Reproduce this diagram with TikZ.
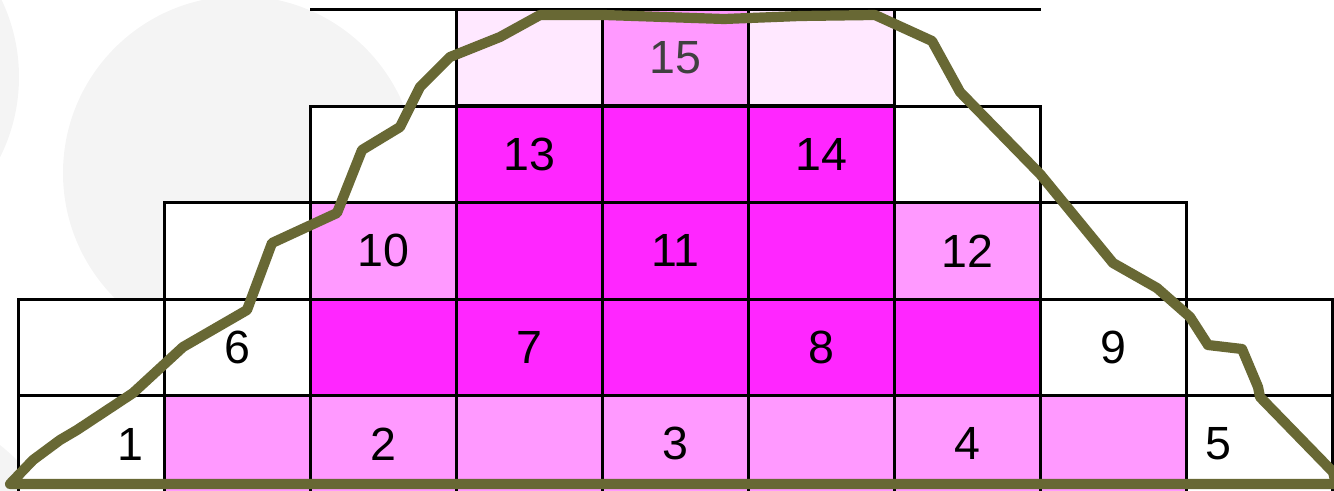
\documentclass[tikz,border=0pt]{standalone}
\usepackage{fontspec}
\setmainfont{Liberation Sans}
\usepackage{xcolor}
\usepackage{tikz}
\usetikzlibrary{positioning}
\definecolor{pkMagenta}{HTML}{FF26FF}
\definecolor{pkLight}{HTML}{FF99FF}
\definecolor{pkPale}{HTML}{FFE8FF}
\definecolor{edOlive}{HTML}{686834}
\definecolor{bgGray}{HTML}{F4F4F4}
\definecolor{txGray}{HTML}{404040}
\tikzset{
  cell/.style={
    rectangle, draw=black, line width=1.7pt,
    fill=#1,
    minimum width=2.922cm, minimum height=1.93cm,
    inner sep=0pt, outer sep=0pt,
    font=\fontsize{26.5}{30}\selectfont
  },
  cell/.default=white,
  numlabel/.style={inner sep=0pt, font=\fontsize{26.5}{30}\selectfont},
  gridline/.style={draw=black, line width=1.7pt},
  outline/.style={draw=edOlive, line width=5.8pt, line join=round, line cap=round}
}

\begin{document}
\begin{tikzpicture}[x=0.02cm, y=-0.02cm]
      \useasboundingbox (0,0) rectangle (1334,490);
      % faint background discs
      \fill[bgGray] (240,173) circle[radius=177];
      \fill[bgGray] (-160,77) circle[radius=179];
      \fill[bgGray] (-130,610) circle[radius=210];
      % bottom row
      \node[cell] (r5c0) at (91.05,443.75) {};
      \node[cell=pkLight] (r5c1) at (237.15,443.75) {};
      \node[cell=pkLight] (r5c2) at (383.25,443.75) {2};
      \node[cell=pkLight] (r5c3) at (529.35,443.75) {};
      \node[cell=pkLight] (r5c4) at (675.45,443.75) {3};
      \node[cell=pkLight] (r5c5) at (821.55,443.75) {};
      \node[cell=pkLight] (r5c6) at (967.65,443.75) {4};
      \node[cell=pkLight] (r5c7) at (1113.75,443.75) {};
      \node[cell] (r5c8) at (1259.85,443.75) {};
      \node[numlabel] (lab1) at (130,444) {1};
      \node[numlabel] (lab5) at (1218,444) {5};
      % fourth row
      \node[cell] (r4c0) at (91.05,347.25) {};
      \node[cell] (r4c1) at (237.15,347.25) {6};
      \node[cell=pkMagenta] (r4c2) at (383.25,347.25) {};
      \node[cell=pkMagenta] (r4c3) at (529.35,347.25) {7};
      \node[cell=pkMagenta] (r4c4) at (675.45,347.25) {};
      \node[cell=pkMagenta] (r4c5) at (821.55,347.25) {8};
      \node[cell=pkMagenta] (r4c6) at (967.65,347.25) {};
      \node[cell] (r4c7) at (1113.75,347.25) {9};
      \node[cell] (r4c8) at (1259.85,347.25) {};
      % third row
      \node[cell] (r3c1) at (237.15,250.75) {};
      \node[cell=pkLight] (r3c2) at (383.25,250.75) {10};
      \node[cell=pkMagenta] (r3c3) at (529.35,250.75) {};
      \node[cell=pkMagenta] (r3c4) at (675.45,250.75) {11};
      \node[cell=pkMagenta] (r3c5) at (821.55,250.75) {};
      \node[cell=pkLight] (r3c6) at (967.65,250.75) {12};
      \node[cell] (r3c7) at (1113.75,250.75) {};
      % second row
      \node[cell] (r2c2) at (383.25,154.25) {};
      \node[cell=pkMagenta] (r2c3) at (529.35,154.25) {13};
      \node[cell=pkMagenta] (r2c4) at (675.45,154.25) {};
      \node[cell=pkMagenta] (r2c5) at (821.55,154.25) {14};
      \node[cell] (r2c6) at (967.65,154.25) {};
      % top row
      \node[cell=pkPale] (r1c3) at (529.35,57.75) {};
      \node[cell=pkLight, text=txGray] (r1c4) at (675.45,57.75) {15};
      \node[cell=pkPale] (r1c5) at (821.55,57.75) {};
      \draw[gridline] (r2c2.north west |- r1c3.north) -- (r1c3.north west);
      \draw[gridline] (r1c5.north east) -- (r2c6.north east |- r1c5.north);
      % hand-drawn outline
      \draw[outline] (10,484) -- (33,460) -- (60,440) -- (77,430) -- (133,393)
        -- (183,347) -- (247,310) -- (272,243) -- (337,213) -- (362,150)
        -- (400,127) -- (420,87) -- (450,57) -- (500,37) -- (540,15)
        -- (604,15) -- (724,19) -- (800,16) -- (875,15) -- (932,41)
        -- (960,92) -- (1040,174) -- (1113,263) -- (1157,288) -- (1190,317)
        -- (1208,345) -- (1242,349) -- (1258,387) -- (1260,397) -- (1333,472)
        -- (1336,484) -- cycle;
    \end{tikzpicture}
\end{document}
